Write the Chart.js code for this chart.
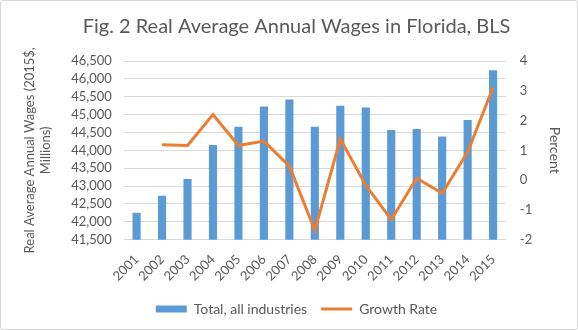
<!DOCTYPE html>
<html>
<head>
<meta charset="utf-8">
<script src="https://cdn.jsdelivr.net/npm/chart.js@4"></script>
<style>
  body { margin: 0; background: #fff; }
  #box { width: 576px; height: 328px; border: 1px solid #d9d9d9; border-radius: 3px; position: relative; }
</style>
</head>
<body>
<div id="box"><canvas id="chart"></canvas></div>
<script>
const years = ["2001","2002","2003","2004","2005","2006","2007","2008","2009","2010","2011","2012","2013","2014","2015"];
// Total, all industries (2015$, millions)
const wages = [42250, 42730, 43200, 44150, 44660, 45230, 45420, 44660, 45250, 45200, 44570, 44600, 44390, 44850, 46240];
// Growth rate, percent
const growth = [null, 1.19, 1.16, 2.2, 1.16, 1.31, 0.47, -1.69, 1.38, -0.17, -1.33, 0.06, -0.44, 0.94, 3.11];

const grey = "#595959";
const font = "Lato";

const ctx = document.getElementById("chart").getContext("2d");
new Chart(ctx, {
  data: {
    labels: years,
    datasets: [
      {
        type: "bar",
        label: "Total, all industries",
        data: wages,
        backgroundColor: "#5B9BD5",
        borderColor: "#5B9BD5",
        yAxisID: "y",
        order: 1,
        categoryPercentage: 0.32,
        barPercentage: 1
      },
      {
        type: "line",
        label: "Growth Rate",
        data: growth,
        borderColor: "#ED7D31",
        backgroundColor: "#ED7D31",
        borderWidth: 3,
        pointRadius: 0,
        tension: 0,
        yAxisID: "y1",
        order: 0
      }
    ]
  },
  options: {
    responsive: true,
    maintainAspectRatio: false,
    animation: false,
    layout: { padding: { left: 21, right: 6, top: 6, bottom: 3 } },
    plugins: {
      title: {
        display: true,
        text: "Fig. 2 Real Average Annual Wages in Florida, BLS",
        color: grey,
        font: { family: font, size: 20, weight: "normal" },
        padding: { top: 8, bottom: 22 }
      },
      legend: {
        position: "bottom",
        labels: {
          color: grey,
          font: { family: font, size: 14 },
          usePointStyle: true,
          pointStyleWidth: 31,
          boxHeight: 7,
          padding: 14,
          sort: (a, b) => a.datasetIndex - b.datasetIndex,
          generateLabels: (chart) => {
            const items = Chart.defaults.plugins.legend.labels.generateLabels(chart);
            items.forEach(it => {
              if (it.datasetIndex === 0) { it.pointStyle = "rect"; it.lineWidth = 0; }
              else { it.pointStyle = "line"; it.lineWidth = 3; it.strokeStyle = "#ED7D31"; }
            });
            return items;
          }
        }
      },
      tooltip: { enabled: false }
    },
    scales: {
      x: {
        grid: { display: false },
        border: { display: false },
        ticks: { color: grey, font: { family: font, size: 13 }, minRotation: 45, maxRotation: 45, autoSkip: false, padding: 4 }
      },
      y: {
        position: "left",
        min: 41500,
        max: 46500,
        ticks: { stepSize: 500, autoSkip: false, color: grey, font: { family: font, size: 13 }, padding: 12 },
        grid: { color: "#D9D9D9", drawTicks: false },
        border: { display: false },
        title: {
          display: true,
          text: ["Real Average Annual Wages (2015$,", "Millions)"],
          color: grey,
          font: { family: font, size: 13 },
          padding: { top: 0, bottom: 6 }
        }
      },
      y1: {
        position: "right",
        min: -2,
        max: 4,
        ticks: { stepSize: 1, autoSkip: false, color: grey, font: { family: font, size: 13 }, padding: 14 },
        grid: { display: false, drawTicks: false },
        border: { display: false },
        title: {
          display: true,
          text: "Percent",
          color: grey,
          font: { family: font, size: 14 },
          padding: { top: 8, bottom: 0 }
        }
      }
    }
  }
});
</script>
</body>
</html>
